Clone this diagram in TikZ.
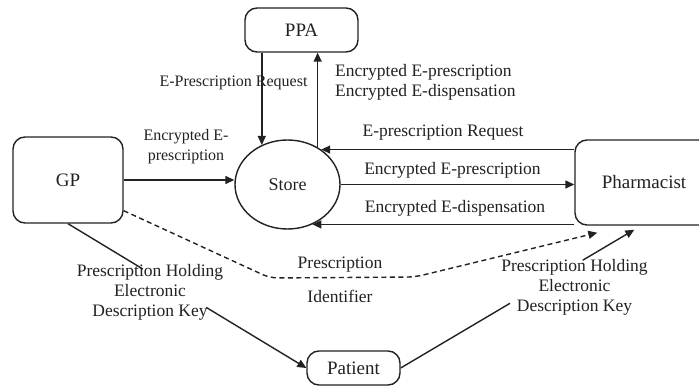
\documentclass[tikz,border=0pt]{standalone}
\usepackage{fontspec}
\setmainfont{Liberation Serif}
\usetikzlibrary{arrows.meta,shapes.geometric,calc}
\definecolor{ink}{HTML}{222222}
\begin{document}
\begin{tikzpicture}[x=1pt,y=1pt,
  every node/.style={text=ink},
  entity/.style={draw=ink, line width=1.4pt, rounded corners=12pt, inner sep=0pt,
    font=\fontsize{19}{22}\selectfont},
  datastore/.style={draw=ink, line width=1.4pt, ellipse, inner sep=0pt,
    font=\fontsize{18}{22}\selectfont},
  lbl/.style={font=\fontsize{17.5}{20}\selectfont, inner sep=1pt, align=center},
  smalllbl/.style={lbl, font=\fontsize{16}{20}\selectfont},
  flow/.style={draw=ink, line width=1.4pt, -{Triangle[length=9pt,width=8pt]}},
  plain/.style={draw=ink, line width=1.4pt},
  dashflow/.style={flow, dash pattern=on 5pt off 3.5pt, rounded corners=8pt}]
\useasboundingbox (0,0) rectangle (699,-387);
\clip (0,0) rectangle (699,-387);
\fill[white] (0,0) rectangle (699,-387);

% entities and the data store
\node[entity, minimum width=113, minimum height=44] (ppa) at (301.5,-30) {PPA};
\node[entity, minimum width=110, minimum height=86] (gp) at (68,-180) {GP};
\node[datastore, minimum width=105, minimum height=89] (store) at (287.5,-184.5) {Store};
\node[entity, minimum width=138, minimum height=85] (pharm) at (644,-182.5) {Pharmacist};
\node[entity, minimum width=93, minimum height=34] (patient) at (353.5,-368) {Patient};

% PPA <-> Store
\draw[flow] (store.123 |- ppa.south) -- (store.123);
\draw[flow] (store.51) -- (store.51 |- ppa.south);

% GP -> Store
\draw[flow] (gp.east) -- (gp.east -| store.west);

% Store <-> Pharmacist
\draw[flow] (pharm.west |- store.46) -- (store.46);
\draw[flow] (store.east) -- (store.east -| pharm.west);
\draw[flow] (pharm.west |- store.-58) -- (store.-58);

% prescription identifier (dashed)
\coordinate (d0) at ($(gp.south east)+(0,13)$);
\coordinate (d1) at (270,-278);
\coordinate (d2) at (415,-277);
\coordinate (d3) at ($(pharm.south west)+(23,-7)$);
\draw[dashflow] (d0) -- (d1) -- (d2) -- (d3);

% description key via the patient
\draw[plain] (gp.south) -- ($(gp.south)!0.314!(patient.west)$);
\draw[flow] ($(gp.south)!0.58!(patient.west)$) -- (patient.west);
\coordinate (pk) at ($(pharm.south west)+(60,-4)$);
\draw[plain] (patient.east) -- ($(patient.east)!0.468!(pk)$);
\draw[flow] ($(patient.east)!0.779!(pk)$) -- (pk);

% labels
\node[smalllbl] (l1) at (233.5,-83) {E-Prescription Request};
\node[lbl, anchor=west, align=left] (l2) at (334,-82) {Encrypted E-prescription\\Encrypted E-dispensation};
\node[smalllbl] (l3) at (186,-147) {Encrypted E-\\prescription};
\node[lbl] (l4) at (443,-133) {E-prescription Request};
\node[lbl] (l5) at (452.5,-170) {Encrypted E-prescription};
\node[lbl] (l6) at (455,-208) {Encrypted E-dispensation};
\node[lbl] (l7) at (340,-280) {Prescription\\[14pt]Identifier};
\node[lbl] (l8) at (150,-292) {Prescription Holding\\Electronic\\Description Key};
\node[lbl] (l9) at (574.5,-287) {Prescription Holding\\Electronic\\Description Key};
\end{tikzpicture}
\end{document}
